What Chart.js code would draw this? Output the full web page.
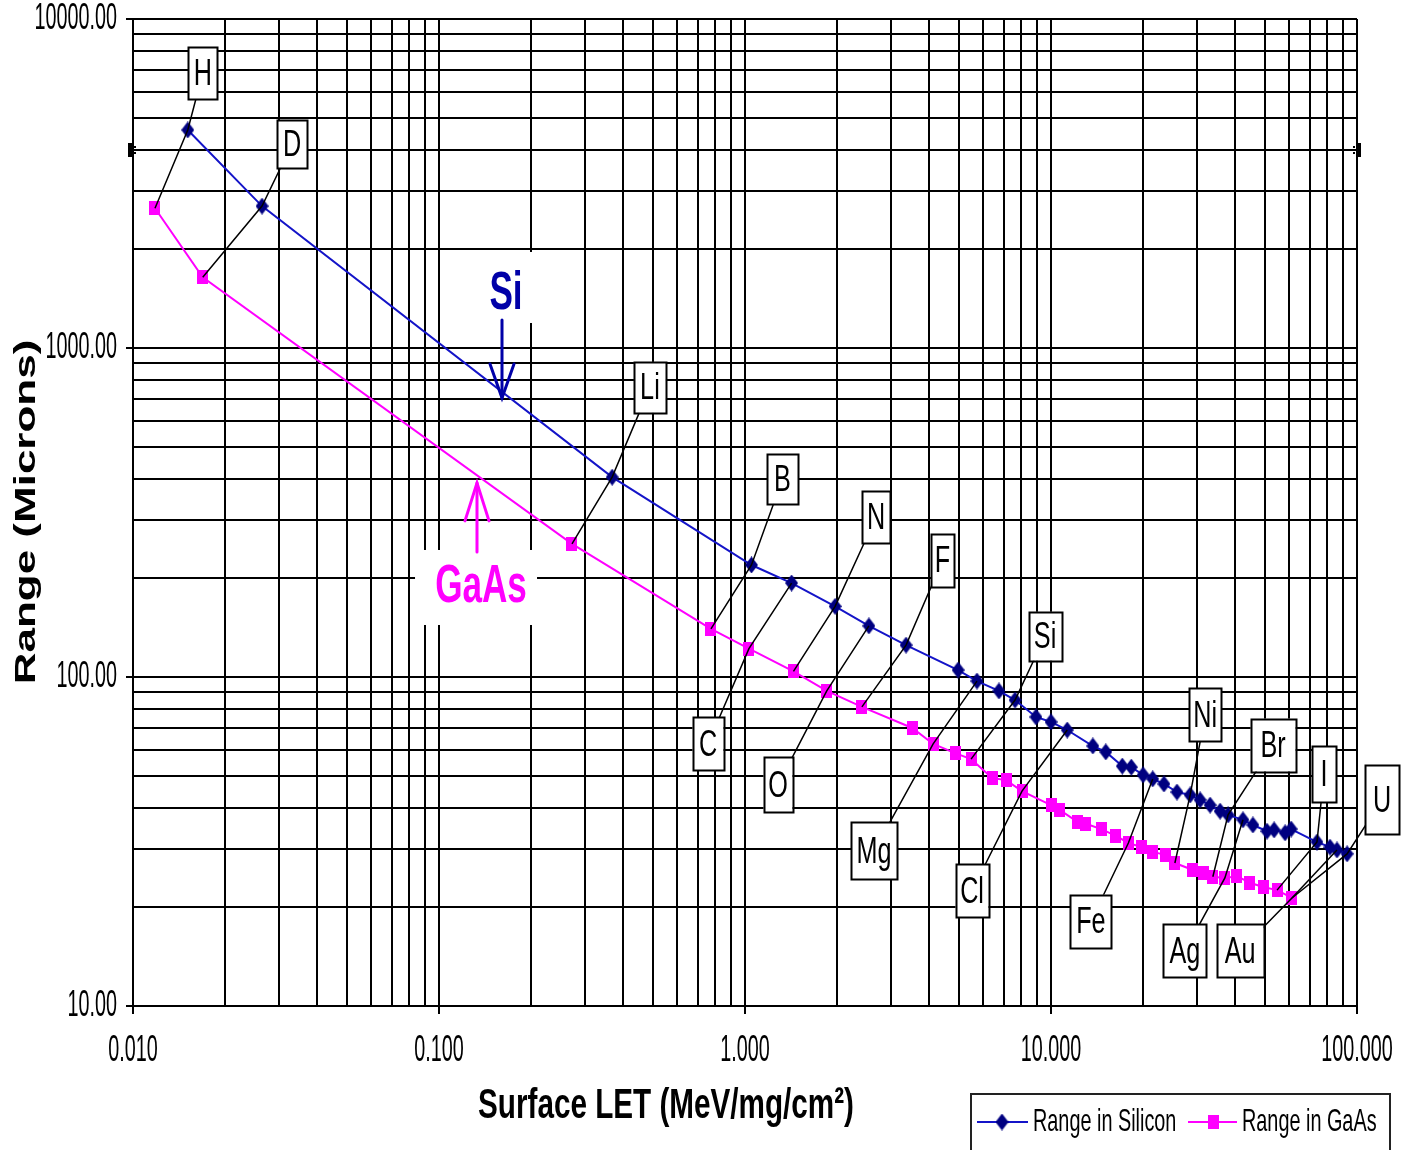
<!DOCTYPE html>
<html><head><meta charset="utf-8">
<script src="https://cdn.jsdelivr.net/npm/chart.js@4.4.0/dist/chart.umd.min.js"></script>
<style>html,body{margin:0;padding:0;background:#fff;}canvas{display:block;}</style>
</head><body>
<canvas id="c" width="1412" height="1150"></canvas>
<script>
// ---- data ----
const siLET   = [0.0151,0.0264,0.368,1.05,1.42,1.97,2.54,3.36,4.97,5.73,6.76,7.63,8.93,10.0,11.3,13.7,15.1,17.1,18.3,20.0,21.5,23.4,25.8,28.5,30.7,33.1,35.7,37.9,42.4,45.7,50.8,53.6,58.2,60.9,74.0,81.6,86.0,92.8];
const siRange = [4600,2700,405,219,193,164,143,125,105,97.2,90.7,85.1,75.6,73.0,69.0,61.7,59.2,53.6,53.2,50.4,49.0,47.3,44.7,43.8,42.3,40.8,39.1,38.1,36.8,35.5,34.0,34.3,33.6,34.5,31.5,30.4,29.8,29.0];
const gaLET   = [0.0118,0.0169,0.272,0.774,1.03,1.44,1.85,2.41,3.52,4.12,4.86,5.48,6.42,7.13,8.04,10.0,10.7,12.2,13.0,14.6,16.3,17.9,19.8,21.5,23.6,25.4,29.1,31.4,33.8,37.0,40.5,44.7,49.3,54.8,61.3];
const gaRange = [2660,1640,254,140,122,104,90.7,81.1,70.0,62.6,58.7,56.3,49.3,48.6,45.0,40.8,39.4,36.3,35.8,34.5,32.9,31.3,30.4,29.4,28.8,27.2,25.9,25.4,24.7,24.5,24.8,23.7,23.0,22.5,21.3];
const seriesNames = ['Range in Silicon','Range in GaAs'];
const xTickValues = [0.01,0.1,1,10,100];
const xTickLabels = ['0.010','0.100','1.000','10.000','100.000'];
const yTickValues = [10,100,1000,10000];
const yTickLabels = ['10.00','100.00','1000.00','10000.00'];
const xTitle = 'Surface LET (MeV/mg/cm\u00B2)';
const yTitle = 'Range (Microns)';
// ion labels: which point of each series they tag
const ionNames   = ['H','D','Li','B','C','N','O','F','Mg','Si','Cl','Fe','Ni','Br','Ag','Au','I','U'];
const ionSiIndex = [0,1,2,3,4,5,6,7,9,11,14,20,23,27,28,36,34,37];
const ionGaIndex = [0,1,2,3,4,5,6,7,9,11,14,21,25,28,29,34,33,34];

// ---- annotation layout (anchors in data space) ----
const ionBoxLET   = [0.0169,0.0331,0.489,1.326,0.757,2.68,1.282,4.42,2.64,9.56,5.52,13.5,31.9,53.2,27.4,41.5,78.0,120.7];
const ionBoxRange = [6850,4170,759,400,62.6,306,47.0,226,29.6,133,22.4,18.1,76.7,62.1,14.7,14.7,50.7,42.3];
const ionBoxW = [29,30,32,31,31,28,29,23,46,33,33,41,32,45,43,47,24,34];
const ionBoxH = [52,48,51,50,53,52,55,53,57,49,53,53,53,53,53,53,56,69];
const FONT = "'Liberation Sans', Arial, Helvetica, sans-serif";

function makeDiamond(w,h,color){const c=document.createElement('canvas');c.width=w;c.height=h;const g=c.getContext('2d');g.fillStyle=color;g.beginPath();g.moveTo(w/2,0);g.lineTo(w,h/2);g.lineTo(w/2,h);g.lineTo(0,h/2);g.closePath();g.fill();return c;}
function makeSquare(w,h,color){const c=document.createElement('canvas');c.width=w;c.height=h;const g=c.getContext('2d');g.fillStyle=color;g.fillRect(0,0,w,h);return c;}
const diamondImg = makeDiamond(13,17,'#000080');
const squareImg  = makeSquare(11,14,'#ff00ff');

function txt(ctx,s,x,y,font,sx,align,color,baseline){
  ctx.save();ctx.translate(x,y);ctx.scale(sx,1);ctx.font=font;ctx.fillStyle=color||'#000';
  ctx.textAlign=align||'center';ctx.textBaseline=baseline||'middle';ctx.fillText(s,0,0);ctx.restore();
}

const SiNote = {let:0.1656, range:1480, arrowLET:0.1607, from:1216, to:705};
const GaNote = {let:0.1372, range:190.4, arrowLET:0.1331, from:240, to:389};

function arrow(ctx,x,y1,y2,color,head,half){
  ctx.save();ctx.strokeStyle=color;ctx.lineWidth=3;ctx.lineCap='round';
  ctx.beginPath();ctx.moveTo(x,y1);ctx.lineTo(x,y2);ctx.stroke();
  const d = y2>y1?-1:1;
  ctx.beginPath();ctx.moveTo(x-half,y2+d*head);ctx.lineTo(x,y2);ctx.lineTo(x+half,y2+d*head);ctx.stroke();
  ctx.restore();
}

const deco = {
  id:'deco',
  beforeDatasetsDraw(chart){
    const ctx=chart.ctx, xs=chart.scales.x, ys=chart.scales.y, a=chart.chartArea;
    ctx.save();ctx.strokeStyle='#000';ctx.lineWidth=2;
    const top=Math.round(a.top), bot=Math.round(a.bottom), l=Math.round(a.left), r=Math.round(a.right);
    for(let e=-2;e<=2;e++){for(let m=1;m<=9;m++){const v=m*Math.pow(10,e); if(v>100.0001) break;
      const x=Math.round(xs.getPixelForValue(v)); ctx.beginPath();ctx.moveTo(x,top);ctx.lineTo(x,bot);ctx.stroke();}}
    for(let e=1;e<=4;e++){for(let m=1;m<=9;m++){const v=m*Math.pow(10,e); if(v>10000.001) break;
      const y=Math.round(ys.getPixelForValue(v)); ctx.beginPath();ctx.moveTo(l,y);ctx.lineTo(r,y);ctx.stroke();}}
    // tick marks
    xTickValues.forEach(v=>{const x=Math.round(xs.getPixelForValue(v));ctx.beginPath();ctx.moveTo(x,bot);ctx.lineTo(x,bot+8);ctx.stroke();});
    yTickValues.forEach(v=>{const y=Math.round(ys.getPixelForValue(v));ctx.beginPath();ctx.moveTo(l-7,y);ctx.lineTo(l,y);ctx.stroke();});
    ctx.restore();
    // white backgrounds of the Si / GaAs notes
    ctx.save();ctx.fillStyle='#fff';
    const sx=xs.getPixelForValue(SiNote.let), sy=ys.getPixelForValue(SiNote.range);
    ctx.fillRect(sx-36,sy-40,68,71);
    const gx=xs.getPixelForValue(GaNote.let), gy=ys.getPixelForValue(GaNote.range);
    ctx.fillRect(gx-66,gy-35,122,75);
    ctx.restore();
  },
  afterDraw(chart){
    const ctx=chart.ctx, xs=chart.scales.x, ys=chart.scales.y, a=chart.chartArea;
    // leader lines + boxes
    ionNames.forEach((n,k)=>{
      const S={x:xs.getPixelForValue(siLET[ionSiIndex[k]]),y:ys.getPixelForValue(siRange[ionSiIndex[k]])};
      const G={x:xs.getPixelForValue(gaLET[ionGaIndex[k]]),y:ys.getPixelForValue(gaRange[ionGaIndex[k]])};
      const B={x:xs.getPixelForValue(ionBoxLET[k]),y:ys.getPixelForValue(ionBoxRange[k])};
      const dS=Math.hypot(S.x-B.x,S.y-B.y), dG=Math.hypot(G.x-B.x,G.y-B.y);
      const far=dS>dG?S:G, near=dS>dG?G:S;
      ctx.save();ctx.strokeStyle='#000';ctx.lineWidth=1.5;
      ctx.beginPath();ctx.moveTo(far.x,far.y);ctx.lineTo(near.x,near.y);ctx.lineTo(B.x,B.y);ctx.stroke();
      const w=ionBoxW[k],h=ionBoxH[k];
      ctx.fillStyle='#fff';ctx.fillRect(B.x-w/2,B.y-h/2,w,h);
      ctx.lineWidth=2;ctx.strokeRect(Math.round(B.x-w/2)+0.5,Math.round(B.y-h/2)+0.5,w,h);
      ctx.restore();
      txt(ctx,n,B.x,B.y+2,'36px '+FONT,0.7,'center','#000');
    });
    // Si / GaAs notes
    const sx=xs.getPixelForValue(SiNote.let), sy=ys.getPixelForValue(SiNote.range);
    txt(ctx,'Si',sx,sy+2,'bold 54px '+FONT,0.65,'center','#0000a8');
    arrow(ctx,Math.round(xs.getPixelForValue(SiNote.arrowLET)),ys.getPixelForValue(SiNote.from),ys.getPixelForValue(SiNote.to),'#0000a8',34,12);
    const gx=xs.getPixelForValue(GaNote.let), gy=ys.getPixelForValue(GaNote.range);
    txt(ctx,'GaAs',gx,gy+2,'bold 54px '+FONT,0.65,'center','#ff00ff');
    arrow(ctx,Math.round(xs.getPixelForValue(GaNote.arrowLET)),ys.getPixelForValue(GaNote.from),ys.getPixelForValue(GaNote.to),'#ff00ff',38,12);
    // tick labels
    xTickValues.forEach((v,i)=>txt(ctx,xTickLabels[i],xs.getPixelForValue(v),a.bottom+45,'36px '+FONT,0.55,'center','#000'));
    yTickValues.forEach((v,i)=>txt(ctx,yTickLabels[i],a.left-16,ys.getPixelForValue(v),'36px '+FONT,0.55,'right','#000'));
    // axis titles
    txt(ctx,xTitle,666,a.bottom+100,'bold 43px '+FONT,0.69,'center','#000');
    ctx.save();ctx.translate(27,512);ctx.rotate(-Math.PI/2);ctx.scale(1,0.69);
    ctx.font='bold 44px '+FONT;ctx.fillStyle='#000';ctx.textAlign='center';ctx.textBaseline='middle';ctx.fillText(yTitle,0,0);ctx.restore();
    // handles
    const hy=Math.round(ys.getPixelForValue(4000));
    ctx.save();ctx.fillStyle='#000';
    ctx.fillRect(a.left-5,hy-7,5,14);ctx.fillRect(a.left+1,hy-4,2,2);ctx.fillRect(a.left+1,hy+2,2,2);
    ctx.fillRect(a.right-1,hy-7,5,14);ctx.fillRect(a.right-4,hy-4,2,2);ctx.fillRect(a.right-4,hy+2,2,2);
    ctx.restore();
    // legend
    ctx.save();ctx.fillStyle='#fff';ctx.fillRect(970,1093,420,70);
    ctx.strokeStyle='#222';ctx.lineWidth=2;ctx.strokeRect(971,1094,419,70);
    const ly=1122;
    ctx.strokeStyle='#1414c8';ctx.beginPath();ctx.moveTo(977,ly);ctx.lineTo(1028,ly);ctx.stroke();
    ctx.drawImage(diamondImg,1002-6.5,ly-8.5);
    ctx.strokeStyle='#ff00ff';ctx.beginPath();ctx.moveTo(1188,ly);ctx.lineTo(1237,ly);ctx.stroke();
    ctx.drawImage(squareImg,1213-5.5,ly-7);
    ctx.restore();
    txt(ctx,seriesNames[0],1033,ly,'32px '+FONT,0.62,'left','#000');
    txt(ctx,seriesNames[1],1242,ly,'32px '+FONT,0.62,'left','#000');
  }
};

new Chart(document.getElementById('c').getContext('2d'),{
  type:'line',
  data:{datasets:[
    {label:seriesNames[0],data:siLET.map((x,i)=>({x:x,y:siRange[i]})),borderColor:'#1414c8',borderWidth:2,
     pointStyle:diamondImg,pointRadius:6,pointHoverRadius:6,tension:0,fill:false},
    {label:seriesNames[1],data:gaLET.map((x,i)=>({x:x,y:gaRange[i]})),borderColor:'#ff00ff',borderWidth:2,
     pointStyle:squareImg,pointRadius:6,pointHoverRadius:6,tension:0,fill:false}
  ]},
  options:{
    responsive:false,animation:false,devicePixelRatio:1,
    layout:{padding:{top:19,right:55,left:0,bottom:0}},
    plugins:{legend:{display:false},tooltip:{enabled:false}},
    scales:{
      x:{type:'logarithmic',min:0.01,max:100,ticks:{display:false},grid:{display:false},border:{display:false},afterFit(s){s.height=144;}},
      y:{type:'logarithmic',min:10,max:10000,ticks:{display:false},grid:{display:false},border:{display:false},afterFit(s){s.width=133;}}
    }
  },
  plugins:[deco]
});
</script>
</body></html>
